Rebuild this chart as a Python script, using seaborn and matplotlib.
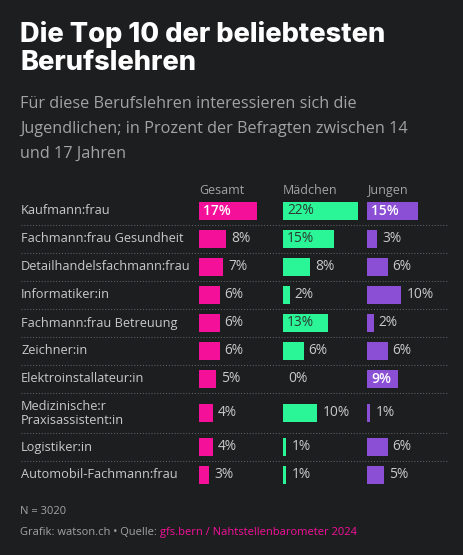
import numpy as np
import pandas as pd
import matplotlib
matplotlib.use("Agg")
import matplotlib.pyplot as plt
import seaborn as sns
from matplotlib import transforms

# ---------------- data ----------------
categories = [
    "Kaufmann:frau",
    "Fachmann:frau Gesundheit",
    "Detailhandelsfachmann:frau",
    "Informatiker:in",
    "Fachmann:frau Betreuung",
    "Zeichner:in",
    "Elektroinstallateur:in",
    "Medizinische:r\nPraxisassistent:in",
    "Logistiker:in",
    "Automobil-Fachmann:frau",
]
gesamt = [17, 8, 7, 6, 6, 6, 5, 4, 4, 3]
maedchen = [22, 15, 8, 2, 13, 6, 0, 10, 1, 1]
jungen = [15, 3, 6, 10, 2, 6, 9, 1, 6, 5]
series_names = ["Gesamt", "Mädchen", "Jungen"]
# value labels drawn inside the bar
inside_labels = {("Gesamt", 0), ("Mädchen", 0), ("Mädchen", 1), ("Mädchen", 4),
                 ("Jungen", 0), ("Jungen", 6)}

title = ["Die Top 10 der beliebtesten", "Berufslehren"]
subtitle = ["Für diese Berufslehren interessieren sich die",
            "Jugendlichen; in Prozent der Befragten zwischen 14",
            "und 17 Jahren"]
note = "N = 3020"
credit = "Grafik: watson.ch • Quelle: "
source = "gfs.bern / Nahtstellenbarometer 2024"

# ---------------- style ----------------
W, H = 463, 555
DPI = 100
BG = "#1d1e20"
COLORS = {"Gesamt": "#f5109a", "Mädchen": "#2af597", "Jungen": "#8a4fd4"}
INSIDE_TXT = {"Gesamt": ("white", "semibold"), "Mädchen": ("#2b3a33", "normal"),
              "Jungen": ("white", "semibold")}
LABEL_C = "#c9c9c9"
GRAY = "#a3a3a3"
FONT = "Open Sans"
TITLE_FONT = "Inter"
PX_PER_PCT = 3.43
COL_X = [199, 283, 367]
COL_W = 84
VAL_FS = 9.9

sns.set_theme(style="white")
plt.rcParams["font.family"] = [FONT, "DejaVu Sans"]

# row layout (pixels), taller rows for two-line labels
ROW_H, EXTRA = 28, 12
ys, seps = [], []
y = 211
for i, c in enumerate(categories):
    n = c.count("\n")
    if i > 0:
        pn = categories[i - 1].count("\n")
        seps.append(ys[-1] + ROW_H / 2 + EXTRA / 2 * pn)
        y = ys[-1] + ROW_H + EXTRA / 2 * (n + pn)
    ys.append(y)

df = pd.DataFrame({
    "cat": categories * 3,
    "y": ys * 3,
    "series": sum([[s] * len(categories) for s in series_names], []),
    "value": gesamt + maedchen + jungen,
})

fig = plt.figure(figsize=(W / DPI, H / DPI), dpi=DPI, facecolor=BG)
bg = fig.add_axes([0, 0, 1, 1], zorder=0)
bg.set_xlim(0, W)
bg.set_ylim(H, 0)
bg.axis("off")
bg.set_facecolor(BG)

# title / subtitle
for k, line in enumerate(title):
    bg.text(20, 42 + 28.5 * k, line, fontsize=19.6, fontweight="heavy",
            family=[TITLE_FONT, "DejaVu Sans"], color="white",
            va="baseline", ha="left")
for k, line in enumerate(subtitle):
    bg.text(20, 108 + 25 * k, line, fontsize=11.7, color=GRAY,
            va="baseline", ha="left")

# row labels + separators
for c, yy in zip(categories, ys):
    bg.text(21, yy, c, fontsize=9.2, color=LABEL_C, va="center", ha="left",
            linespacing=1.1)
for s in seps:
    bg.plot([21, 447], [s, s], color="#5c5d60", lw=0.8, ls=(0, (1, 1.6)))

# column headers
for s, x0 in zip(series_names, COL_X):
    bg.text(x0, 194, s, fontsize=9.0, color=GRAY, va="baseline", ha="left")

# bars
top_px, bot_px = 195, 492
for s, x0 in zip(series_names, COL_X):
    ax = fig.add_axes([x0 / W, 1 - bot_px / H, COL_W / W, (bot_px - top_px) / H],
                      zorder=2)
    ax.patch.set_alpha(0)
    sub = df[df["series"] == s]
    sns.barplot(data=sub, x="value", y="y", orient="h", native_scale=True,
                color=COLORS[s], saturation=1, width=17.7 / ROW_H,
                errorbar=None, ax=ax, linewidth=0)
    ax.set_xlim(0, COL_W / PX_PER_PCT)
    ax.set_ylim(bot_px, top_px)
    ax.axis("off")
    out_tr = transforms.offset_copy(ax.transData, fig=fig, x=5, y=0, units="dots")
    in_tr = transforms.offset_copy(ax.transData, fig=fig, x=4, y=0, units="dots")
    for i, (v, yy) in enumerate(zip(sub["value"], sub["y"])):
        if (s, i) in inside_labels:
            col, wt = INSIDE_TXT[s]
            ax.text(0, yy, f"{v}%", transform=in_tr, fontsize=VAL_FS, color=col,
                    fontweight=wt, va="center", ha="left")
        else:
            ax.text(v, yy, f"{v}%", transform=out_tr, fontsize=VAL_FS,
                    color=LABEL_C, va="center", ha="left")

# footer
bg.text(20, 512, note, fontsize=8.0, color=GRAY, va="center", ha="left")
t1 = bg.text(20, 535, credit, fontsize=8.0, color=GRAY, va="baseline", ha="left")
bg.annotate(source, xy=(1, 0), xycoords=t1, fontsize=8.0, color="#f5109a",
            va="bottom", ha="left")

fig.savefig("out.png", dpi=DPI, facecolor=BG)
